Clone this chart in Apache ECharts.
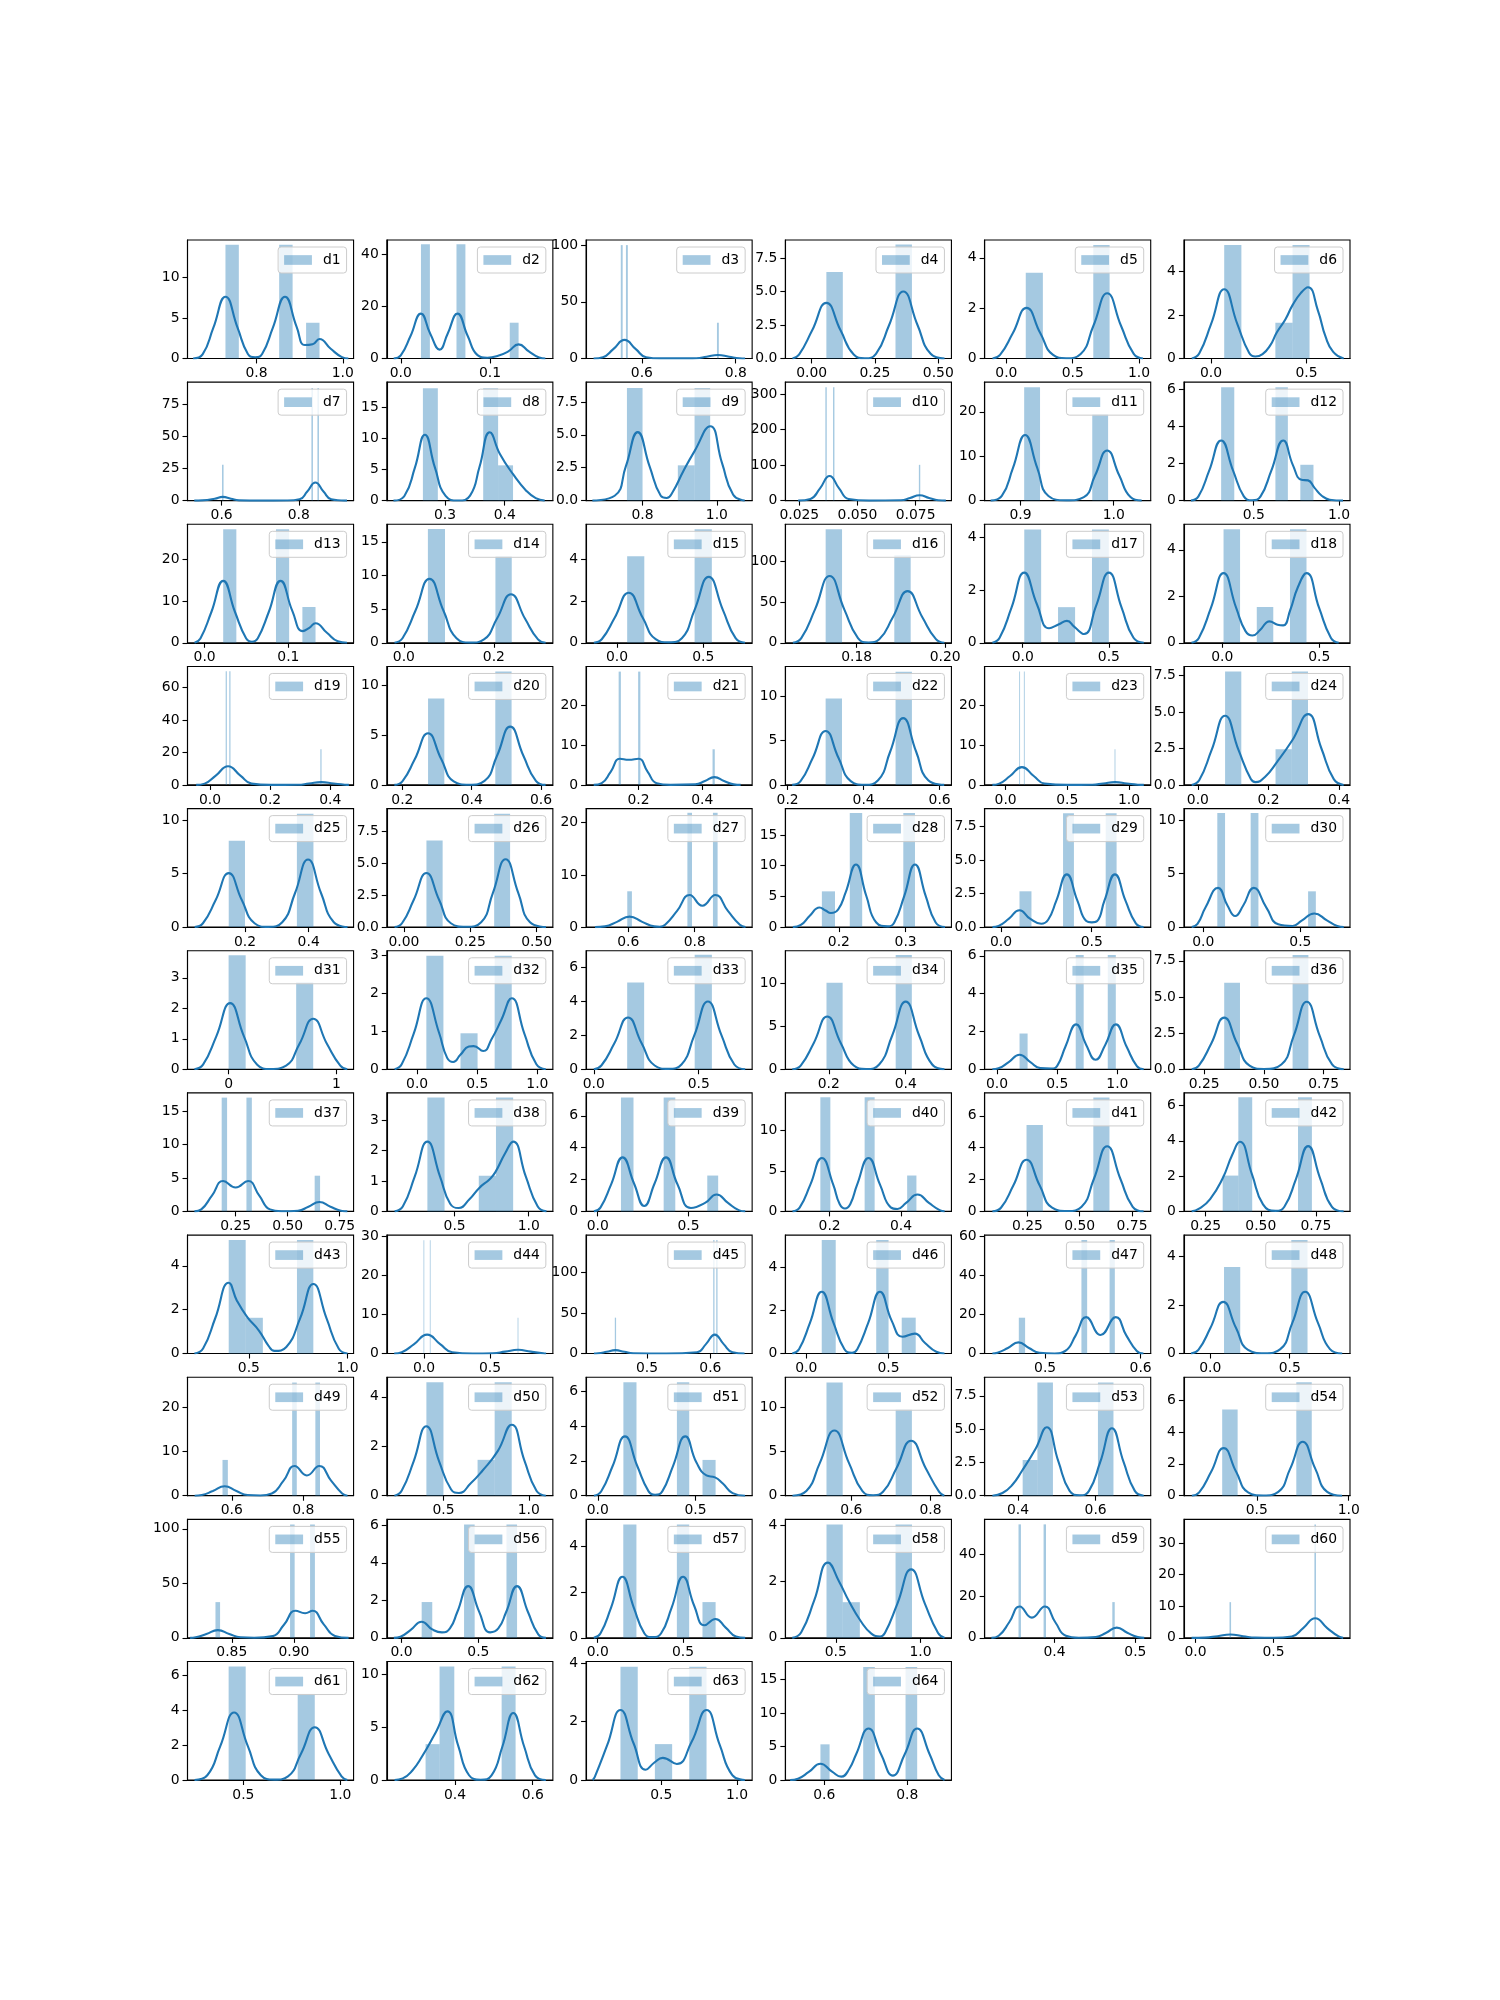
<!DOCTYPE html>
<html><head><meta charset="utf-8">
<script src="https://cdn.jsdelivr.net/npm/echarts@6/dist/echarts.min.js"></script>
<style>html,body{margin:0;padding:0;background:#fff}#c{width:1500px;height:2000px}</style>
</head><body><div id="c"></div>
<script>
const names = ['d1','d2','d3','d4','d5','d6','d7','d8','d9','d10','d11','d12','d13','d14','d15','d16','d17','d18','d19','d20','d21','d22','d23','d24','d25','d26','d27','d28','d29','d30','d31','d32','d33','d34','d35','d36','d37','d38','d39','d40','d41','d42','d43','d44','d45','d46','d47','d48','d49','d50','d51','d52','d53','d54','d55','d56','d57','d58','d59','d60','d61','d62','d63','d64'];

const xLim = [[0.640,1.025],[-0.0157,0.1704],[0.481,0.835],[-0.104,0.552],[-0.164,1.088],[-0.142,0.728],
[0.5115,0.942],[0.2025,0.4807],[0.648,1.095],[0.019,0.0904],[0.8616,1.0397],[0.091,1.064],
[-0.0204,0.1778],[-0.0379,0.331],[-0.180,0.784],[0.1639,0.2014],[-0.221,0.743],[-0.197,0.658],
[-0.075,0.4775],[0.155,0.634],[0.036,0.556],[0.194,0.631],[-0.17,1.176],[-0.0396,0.431],
[0.0195,0.541],[-0.0643,0.561],[0.473,0.973],[0.1198,0.3686],[-0.09,0.825],[-0.1,0.756],
[-0.381,1.158],[-0.252,1.129],[-0.037,0.755],[0.087,0.519],[-0.103,1.277],[0.1656,0.860],
[0.0187,0.817],[0.042,1.163],[-0.064,0.85],[0.076,0.541],[0.046,0.839],[0.151,0.905],
[0.189,1.031],[-0.282,0.976],[0.4036,0.666],[-0.127,0.882],[0.4366,0.6106],[-0.165,0.879],
[0.476,0.941],[0.168,1.141],[-0.06,0.79],[0.433,0.853],[0.314,0.742],[0.104,1.007],
[0.8144,0.948],[-0.096,0.985],[-0.068,0.905],[0.202,1.183],[0.3136,0.519],[-0.074,0.99],
[0.212,1.068],[0.224,0.652],[0.004,1.1],[0.5065,0.9065]];

const yMax = [14.6,45.4,104.5,8.84,4.71,5.44,
92.5,19.07,9.0,333,26.7,6.38,
28.5,17.6,5.68,145,4.49,5.1,
73,11.9,29.9,13.4,29.9,8.13,
11.1,9.3,22.7,19.3,8.84,11.1,
3.89,3.13,7.0,13.8,6.27,8.2,
17.7,3.89,7.44,14.6,7.44,6.72,
5.4,30.26,146,5.48,60.5,4.875,
26.7,4.79,6.79,13.4,8.89,7.44,
108.7,6.32,5.2,4.22,57,37.5,
6.79,11.2,4.06,17.7];

const xTicks = [['0.8','1.0'],['0.0','0.1'],['0.6','0.8'],['0.00','0.25','0.50'],['0.0','0.5','1.0'],['0.0','0.5'],
['0.6','0.8'],['0.3','0.4'],['0.8','1.0'],['0.025','0.050','0.075'],['0.9','1.0'],['0.5','1.0'],
['0.0','0.1'],['0.0','0.2'],['0.0','0.5'],['0.18','0.20'],['0.0','0.5'],['0.0','0.5'],
['0.0','0.2','0.4'],['0.2','0.4','0.6'],['0.2','0.4'],['0.2','0.4','0.6'],['0.0','0.5','1.0'],['0.0','0.2','0.4'],
['0.2','0.4'],['0.00','0.25','0.50'],['0.6','0.8'],['0.2','0.3'],['0.0','0.5'],['0.0','0.5'],
['0','1'],['0.0','0.5','1.0'],['0.0','0.5'],['0.2','0.4'],['0.0','0.5','1.0'],['0.25','0.50','0.75'],
['0.25','0.50','0.75'],['0.5','1.0'],['0.0','0.5'],['0.2','0.4'],['0.25','0.50','0.75'],['0.25','0.50','0.75'],
['0.5','1.0'],['0.0','0.5'],['0.5','0.6'],['0.0','0.5'],['0.5','0.6'],['0.0','0.5'],
['0.6','0.8'],['0.5','1.0'],['0.0','0.5'],['0.6','0.8'],['0.4','0.6'],['0.5','1.0'],
['0.85','0.90'],['0.0','0.5'],['0.0','0.5'],['0.5','1.0'],['0.4','0.5'],['0.0','0.5'],
['0.5','1.0'],['0.4','0.6'],['0.5','1.0'],['0.6','0.8']];

const yTicks = [['0','5','10'],['0','20','40'],['0','50','100'],['0.0','2.5','5.0','7.5'],['0','2','4'],['0','2','4'],
['0','25','50','75'],['0','5','10','15'],['0.0','2.5','5.0','7.5'],['0','100','200','300'],['0','10','20'],['0','2','4','6'],
['0','10','20'],['0','5','10','15'],['0','2','4'],['0','50','100'],['0','2','4'],['0','2','4'],
['0','20','40','60'],['0','5','10'],['0','10','20'],['0','5','10'],['0','10','20'],['0.0','2.5','5.0','7.5'],
['0','5','10'],['0.0','2.5','5.0','7.5'],['0','10','20'],['0','5','10','15'],['0.0','2.5','5.0','7.5'],['0','5','10'],
['0','1','2','3'],['0','1','2','3'],['0','2','4','6'],['0','5','10'],['0','2','4','6'],['0.0','2.5','5.0','7.5'],
['0','5','10','15'],['0','1','2','3'],['0','2','4','6'],['0','5','10'],['0','2','4','6'],['0','2','4','6'],
['0','2','4'],['0','10','20','30'],['0','50','100'],['0','2','4'],['0','20','40','60'],['0','2','4'],
['0','10','20'],['0','2','4'],['0','2','4','6'],['0','5','10'],['0.0','2.5','5.0','7.5'],['0','2','4','6'],
['0','50','100'],['0','2','4','6'],['0','2','4'],['0','2','4'],['0','20','40'],['0','10','20','30'],
['0','2','4','6'],['0','5','10'],['0','2','4'],['0','5','10','15']];

// histogram bars: [left edge, right edge, density]
const histBars = [
[[0.728,0.759,14.0],[0.8525,0.8837,14.0],[0.9149,0.946,4.4]],
[[0.0226,0.0326,43.8],[0.0624,0.0724,43.8],[0.1221,0.132,13.7]],
[[0.555,0.559,100],[0.566,0.570,100],[0.760,0.764,31.5]],
[[0.058,0.123,6.45],[0.331,0.396,8.5]],
[[0.146,0.275,3.41],[0.655,0.778,4.51]],
[[0.069,0.159,5.21],[0.337,0.427,1.64],[0.427,0.516,5.21]],
[[0.601,0.605,28.1],[0.8327,0.8367,88.0],[0.8483,0.8523,88.0]],
[[0.263,0.288,18.1],[0.364,0.389,18.1],[0.389,0.414,5.68]],
[[0.758,0.8,8.56],[0.895,0.94,2.68],[0.94,0.982,8.56]],
[[0.0362,0.0368,319],[0.0395,0.0401,319],[0.0764,0.077,100.6]],
[[0.904,0.921,25.55],[0.977,0.994,19.5]],
[[0.309,0.386,6.1],[0.627,0.700,6.1],[0.773,0.850,1.93]],
[[0.0222,0.0379,27.3],[0.0852,0.1009,27.3],[0.1167,0.1324,8.6]],
[[0.0534,0.0914,16.9],[0.2034,0.2397,12.9]],
[[0.0586,0.158,4.15],[0.45,0.55,5.44]],
[[0.1730,0.1767,138.8],[0.1885,0.1922,107]],
[[0.009,0.107,4.29],[0.205,0.304,1.35],[0.402,0.5,4.29]],
[[0.007,0.092,4.89],[0.178,0.263,1.54],[0.349,0.434,4.89]],
[[0.052,0.056,70],[0.064,0.068,70],[0.367,0.371,22]],
[[0.274,0.321,8.68],[0.468,0.515,11.4]],
[[0.138,0.145,28.6],[0.199,0.206,28.6],[0.432,0.439,9.0]],
[[0.300,0.343,9.77],[0.484,0.527,12.8]],
[[0.110,0.117,28.6],[0.148,0.155,28.6],[0.883,0.890,9.0]],
[[0.077,0.123,7.78],[0.220,0.266,2.45],[0.266,0.312,7.78]],
[[0.149,0.2,8.1],[0.363,0.415,10.63]],
[[0.085,0.146,6.8],[0.34,0.40,8.9]],
[[0.597,0.611,6.86],[0.778,0.792,21.9],[0.855,0.869,21.9]],
[[0.1745,0.1942,5.82],[0.2163,0.2349,18.57],[0.2965,0.314,18.57]],
[[0.102,0.168,2.67],[0.342,0.402,8.5],[0.577,0.637,8.5]],
[[0.072,0.112,10.7],[0.244,0.284,10.7],[0.54,0.58,3.35]],
[[0.0,0.158,3.74],[0.626,0.784,2.86]],
[[0.077,0.219,3.0],[0.361,0.503,0.95],[0.645,0.787,3.0]],
[[0.159,0.24,5.12],[0.481,0.563,6.76]],
[[0.194,0.236,10.08],[0.374,0.416,13.3]],
[[0.187,0.254,1.89],[0.654,0.720,6.04],[0.920,0.987,6.04]],
[[0.334,0.40,5.98],[0.620,0.686,7.9]],
[[0.183,0.209,17.0],[0.302,0.328,17.0],[0.63,0.656,5.33]],
[[0.316,0.432,3.74],[0.663,0.779,1.17],[0.779,0.895,3.74]],
[[0.128,0.197,7.16],[0.363,0.427,7.16],[0.603,0.663,2.25]],
[[0.174,0.202,14.08],[0.298,0.326,14.08],[0.417,0.443,4.42]],
[[0.246,0.324,5.42],[0.565,0.642,7.16]],
[[0.327,0.398,2.03],[0.398,0.461,6.47],[0.669,0.732,6.47]],
[[0.398,0.484,5.17],[0.484,0.571,1.63],[0.744,0.827,5.17]],
[[-0.004,0.002,28.97],[0.044,0.05,28.97],[0.709,0.715,9.14]],
[[0.449,0.451,44.2],[0.6045,0.6065,140],[0.6093,0.6113,140]],
[[0.094,0.179,5.25],[0.425,0.5,5.25],[0.58,0.665,1.66]],
[[0.4724,0.479,18.3],[0.538,0.544,58],[0.5675,0.573,58]],
[[0.087,0.189,3.56],[0.51,0.612,4.67]],
[[0.574,0.589,8.06],[0.769,0.782,25.5],[0.834,0.847,25.5]],
[[0.4,0.5,4.59],[0.7,0.8,1.45],[0.8,0.9,4.59]],
[[0.131,0.198,6.5],[0.405,0.468,6.5],[0.536,0.603,2.05]],
[[0.537,0.578,12.8],[0.712,0.753,9.77]],
[[0.412,0.45,2.68],[0.45,0.49,8.5],[0.606,0.646,8.5]],
[[0.312,0.396,5.42],[0.715,0.799,7.12]],
[[0.8369,0.8406,32.8],[0.8969,0.9006,104],[0.913,0.9169,104]],
[[0.131,0.2,1.91],[0.407,0.476,6.05],[0.683,0.752,6.05]],
[[0.15,0.227,4.98],[0.464,0.536,4.98],[0.614,0.691,1.57]],
[[0.445,0.541,4.04],[0.541,0.642,1.27],[0.853,0.95,4.04]],
[[0.3555,0.3585,54.6],[0.3865,0.3895,54.6],[0.4715,0.4745,17.2]],
[[0.218,0.228,11.3],[0.762,0.772,35.9]],
[[0.424,0.512,6.5],[0.78,0.868,4.95]],
[[0.324,0.36,3.39],[0.36,0.398,10.73],[0.52,0.556,10.73]],
[[0.231,0.345,3.88],[0.458,0.572,1.23],[0.685,0.799,3.88]],
[[0.591,0.613,5.33],[0.694,0.722,16.9],[0.796,0.824,16.9]]
];

// KDE curves: [x, density]
const kdeCurves = [
[[0.653,0],[0.675,0.5],[0.700,3.8],[0.728,7.6],[0.756,3.8],[0.78,0.55],[0.797,0.15],[0.813,0.55],[0.838,3.8],[0.866,7.6],[0.893,3.9],[0.912,1.65],[0.93,1.75],[0.946,2.4],[0.972,1.2],[0.998,0.17],[1.013,0]],
[[-0.008,0],[0.0,1.2],[0.0109,8.6],[0.0226,17.2],[0.033,9.5],[0.0435,3.4],[0.0525,9.5],[0.0635,17.2],[0.075,8.6],[0.086,1.3],[0.097,0.3],[0.109,1.0],[0.1205,2.7],[0.132,5.4],[0.1435,2.7],[0.155,0.4],[0.162,0]],
[[0.497,0],[0.517,1.1],[0.539,8.2],[0.563,16.4],[0.587,8.2],[0.609,1.1],[0.64,0.05],[0.70,0.05],[0.716,0.2],[0.738,1.5],[0.762,3.0],[0.786,1.5],[0.808,0.2],[0.82,0]],
[[-0.076,0],[-0.05,0.29],[0.002,2.1],[0.058,4.15],[0.114,2.1],[0.166,0.3],[0.21,0.02],[0.254,0.35],[0.306,2.5],[0.362,5.0],[0.418,2.5],[0.47,0.35],[0.525,0]],
[[-0.105,0],[-0.048,0.14],[0.048,1.0],[0.152,2.01],[0.256,1.0],[0.352,0.14],[0.45,0.01],[0.56,0.18],[0.656,1.3],[0.76,2.59],[0.864,1.3],[0.96,0.18],[1.03,0]],
[[-0.101,0],[-0.062,0.23],[0.001,1.6],[0.069,3.18],[0.137,1.6],[0.2,0.25],[0.232,0.09],[0.27,0.2],[0.31,0.6],[0.345,1.2],[0.39,1.8],[0.427,2.45],[0.47,3.0],[0.508,3.27],[0.56,2.2],[0.6,1.0],[0.64,0.3],[0.695,0]],
[[0.529,0],[0.55,0.2],[0.582,1.45],[0.603,2.9],[0.624,1.45],[0.645,0.2],[0.7,0.01],[0.77,0.05],[0.802,1.0],[0.822,7.05],[0.843,14.1],[0.864,7.05],[0.884,1.0],[0.91,0.15],[0.925,0]],
[[0.2137,0],[0.232,0.75],[0.2496,5.3],[0.2664,10.6],[0.2832,5.3],[0.301,0.75],[0.322,0.02],[0.342,0.8],[0.358,5.5],[0.375,11.0],[0.392,7.5],[0.414,4.25],[0.436,1.6],[0.452,0.4],[0.467,0]],
[[0.665,0],[0.725,0.37],[0.755,2.6],[0.787,5.2],[0.819,2.6],[0.849,0.37],[0.865,0.2],[0.88,0.6],[0.91,2.25],[0.94,3.76],[0.982,5.65],[1.014,2.85],[1.044,0.45],[1.075,0]],
[[0.0245,0],[0.0298,4.8],[0.0339,34.5],[0.038,69],[0.0421,34.5],[0.0462,4.8],[0.055,0.05],[0.0687,1.05],[0.0726,7.5],[0.0767,15],[0.0808,7.5],[0.0847,1.05],[0.088,0]],
[[0.868,0],[0.88,1.05],[0.892,7.4],[0.905,14.8],[0.918,7.4],[0.93,1.05],[0.949,0.05],[0.968,0.8],[0.98,5.65],[0.993,11.3],[1.006,5.65],[1.018,0.8],[1.03,0]],
[[0.132,0],[0.176,0.23],[0.239,1.62],[0.309,3.24],[0.379,1.62],[0.442,0.23],[0.49,0.02],[0.54,0.23],[0.603,1.62],[0.673,3.24],[0.73,1.9],[0.78,1.12],[0.818,1.09],[0.855,0.7],[0.9,0.25],[0.945,0.05],[1.023,0]],
[[-0.012,0],[-0.005,1.05],[0.0081,7.4],[0.0222,14.9],[0.0363,7.4],[0.0495,1.1],[0.0565,0.25],[0.0635,1.1],[0.0766,7.4],[0.0907,14.9],[0.1048,7.6],[0.117,2.8],[0.125,3.6],[0.1324,4.7],[0.146,2.4],[0.159,0.35],[0.170,0]],
[[-0.0207,0],[-0.003,0.67],[0.0257,4.75],[0.0569,9.5],[0.0881,4.75],[0.117,0.67],[0.148,0.02],[0.178,0.5],[0.207,3.6],[0.238,7.2],[0.269,3.6],[0.298,0.5],[0.315,0]],
[[-0.135,0],[-0.089,0.17],[-0.014,1.2],[0.0676,2.40],[0.149,1.2],[0.224,0.17],[0.3,0.02],[0.376,0.22],[0.45,1.58],[0.532,3.16],[0.614,1.58],[0.688,0.22],[0.743,0]],
[[0.1656,0],[0.1675,5.7],[0.1706,40.9],[0.1739,81.8],[0.1772,40.9],[0.1803,5.7],[0.1827,0.3],[0.1851,4.4],[0.1882,31.6],[0.1915,63.2],[0.1948,31.6],[0.1979,4.4],[0.1998,0]],
[[-0.176,0],[-0.134,0.19],[-0.065,1.33],[0.009,2.66],[0.083,1.45],[0.153,0.55],[0.21,0.7],[0.257,0.83],[0.30,0.6],[0.356,0.33],[0.426,1.4],[0.5,2.66],[0.574,1.33],[0.643,0.19],[0.703,0]],
[[-0.158,0],[-0.12,0.21],[-0.058,1.5],[0.007,3.0],[0.072,1.5],[0.12,0.5],[0.156,0.31],[0.195,0.55],[0.225,0.85],[0.242,0.92],[0.285,0.78],[0.314,0.75],[0.35,1.4],[0.39,2.4],[0.434,3.0],[0.499,1.5],[0.56,0.21],[0.6,0]],
[[-0.046,0],[-0.018,0.8],[0.019,5.75],[0.06,11.5],[0.101,5.75],[0.138,0.8],[0.2,0.01],[0.292,0.12],[0.329,0.85],[0.37,1.7],[0.411,0.85],[0.448,0.12],[0.462,0]],
[[0.177,0],[0.2,0.36],[0.236,2.6],[0.274,5.19],[0.312,2.6],[0.348,0.36],[0.392,0.02],[0.437,0.41],[0.473,2.93],[0.511,5.86],[0.549,2.93],[0.585,0.41],[0.613,0]],
[[0.06,0],[0.085,0.45],[0.113,3.3],[0.142,6.6],[0.17,6.35],[0.2,6.6],[0.229,3.3],[0.257,0.45],[0.3,0.02],[0.378,0.14],[0.408,0.98],[0.438,1.96],[0.468,0.98],[0.498,0.14],[0.52,0]],
[[0.212,0],[0.234,0.43],[0.266,3.05],[0.300,6.1],[0.334,3.05],[0.366,0.43],[0.402,0.02],[0.438,0.53],[0.47,3.78],[0.504,7.56],[0.538,3.78],[0.57,0.53],[0.612,0]],
[[-0.107,0],[-0.052,0.32],[0.036,2.25],[0.132,4.5],[0.228,2.25],[0.316,0.32],[0.5,0.0],[0.703,0.05],[0.791,0.35],[0.887,0.7],[0.983,0.35],[1.071,0.05],[1.12,0]],
[[-0.0176,0],[0.004,0.34],[0.039,2.4],[0.077,4.75],[0.115,2.4],[0.15,0.4],[0.163,0.19],[0.19,0.55],[0.224,1.57],[0.268,3.08],[0.312,4.86],[0.35,2.5],[0.385,0.4],[0.413,0]],
[[0.042,0],[0.068,0.36],[0.108,2.53],[0.149,5.06],[0.19,2.53],[0.23,0.36],[0.273,0.02],[0.317,0.45],[0.357,3.17],[0.398,6.33],[0.439,3.17],[0.479,0.45],[0.522,0]],
[[-0.035,0],[-0.007,0.3],[0.037,2.12],[0.085,4.24],[0.133,2.12],[0.177,0.3],[0.234,0.02],[0.291,0.38],[0.335,2.67],[0.383,5.33],[0.431,2.67],[0.475,0.38],[0.535,0]],
[[0.5,0],[0.53,0.14],[0.566,1.0],[0.604,2.0],[0.642,1.0],[0.678,0.14],[0.695,0.05],[0.711,0.43],[0.747,3.1],[0.785,6.15],[0.823,4.1],[0.862,6.15],[0.9,3.1],[0.936,0.43],[0.953,0]],
[[0.131,0],[0.143,0.35],[0.156,1.8],[0.171,3.19],[0.18,2.7],[0.188,2.3],[0.199,2.9],[0.21,5.6],[0.2256,10.2],[0.241,5.1],[0.256,0.75],[0.2733,0.12],[0.283,0.75],[0.298,5.1],[0.314,10.2],[0.33,5.1],[0.345,0.75],[0.359,0]],
[[-0.047,0],[-0.013,0.09],[0.044,0.63],[0.102,1.26],[0.16,0.63],[0.222,0.25],[0.26,0.55],[0.305,1.97],[0.363,3.93],[0.421,1.97],[0.47,0.45],[0.5,0.35],[0.53,0.45],[0.57,1.97],[0.628,3.93],[0.686,1.97],[0.743,0.28],[0.786,0]],
[[-0.06,0],[-0.03,0.3],[0.011,1.83],[0.076,3.67],[0.125,2.0],[0.164,1.04],[0.205,2.0],[0.26,3.67],[0.325,1.83],[0.386,0.26],[0.46,0.1],[0.507,0.6],[0.572,1.27],[0.637,0.63],[0.69,0.1],[0.724,0]],
[[-0.317,0],[-0.237,0.15],[-0.114,1.08],[0.014,2.17],[0.142,1.08],[0.265,0.15],[0.39,0.01],[0.533,0.12],[0.656,0.83],[0.784,1.66],[0.912,0.83],[1.035,0.12],[1.1,0]],
[[-0.187,0],[-0.128,0.13],[-0.028,0.94],[0.077,1.875],[0.182,0.97],[0.25,0.3],[0.3,0.19],[0.36,0.38],[0.43,0.6],[0.47,0.61],[0.55,0.48],[0.62,0.8],[0.7,1.3],[0.787,1.875],[0.892,0.94],[0.992,0.13],[1.07,0]],
[[0.0,0],[0.036,0.22],[0.098,1.53],[0.163,3.06],[0.228,1.53],[0.29,0.22],[0.355,0.02],[0.418,0.28],[0.479,2.0],[0.544,4.0],[0.609,2.0],[0.67,0.28],[0.722,0]],
[[0.105,0],[0.127,0.43],[0.161,3.07],[0.196,6.14],[0.231,3.07],[0.265,0.43],[0.297,0.02],[0.331,0.55],[0.365,3.93],[0.4,7.87],[0.435,3.93],[0.469,0.55],[0.501,0]],
[[-0.039,0],[0.012,0.05],[0.097,0.38],[0.187,0.77],[0.277,0.38],[0.36,0.06],[0.45,0.04],[0.5,0.18],[0.568,1.19],[0.658,2.375],[0.74,1.3],[0.819,0.5],[0.9,1.3],[0.987,2.375],[1.077,1.19],[1.162,0.17],[1.219,0]],
[[0.198,0],[0.228,0.25],[0.28,1.78],[0.334,3.57],[0.388,1.78],[0.44,0.25],[0.5,0.02],[0.573,0.33],[0.625,2.33],[0.679,4.67],[0.733,2.33],[0.785,0.33],[0.834,0]],
[[0.052,0],[0.085,0.3],[0.137,2.4],[0.19,4.53],[0.25,3.57],[0.31,4.53],[0.363,2.4],[0.415,0.3],[0.47,0.02],[0.55,0.1],[0.6,0.7],[0.653,1.41],[0.706,0.7],[0.756,0.1],[0.787,0]],
[[0.095,0],[0.15,0.16],[0.231,1.15],[0.316,2.29],[0.401,1.15],[0.47,0.25],[0.526,0.11],[0.6,0.4],[0.668,0.78],[0.735,1.05],[0.774,1.28],[0.84,1.9],[0.895,2.29],[0.98,1.15],[1.061,0.16],[1.12,0]],
[[-0.021,0],[0.015,0.24],[0.074,1.7],[0.137,3.39],[0.2,1.75],[0.256,0.34],[0.313,1.75],[0.376,3.39],[0.439,1.7],[0.513,0.21],[0.591,0.53],[0.654,1.06],[0.717,0.53],[0.776,0.08],[0.812,0]],
[[0.096,0],[0.116,0.46],[0.146,3.3],[0.178,6.58],[0.21,3.3],[0.228,0.9],[0.243,0.35],[0.258,0.9],[0.277,3.3],[0.309,6.58],[0.341,3.3],[0.371,0.5],[0.39,0.3],[0.414,1.04],[0.446,2.08],[0.478,1.04],[0.508,0.15],[0.522,0]],
[[0.083,0],[0.124,0.23],[0.183,1.62],[0.246,3.24],[0.309,1.62],[0.368,0.23],[0.44,0.02],[0.509,0.29],[0.568,2.05],[0.631,4.09],[0.694,2.05],[0.753,0.29],[0.805,0]],
[[0.186,0],[0.22,0.15],[0.27,0.7],[0.327,1.88],[0.37,3.2],[0.405,3.95],[0.46,2.1],[0.51,0.4],[0.567,0.03],[0.607,0.26],[0.66,1.85],[0.715,3.7],[0.77,1.85],[0.823,0.26],[0.876,0]],
[[0.224,0],[0.268,0.23],[0.33,1.62],[0.398,3.23],[0.44,2.4],[0.492,1.66],[0.551,1.05],[0.6,0.35],[0.63,0.12],[0.69,0.3],[0.76,1.6],[0.827,3.17],[0.894,1.6],[0.956,0.22],[1.0,0]],
[[-0.226,0],[-0.168,0.34],[-0.075,2.42],[0.0235,4.83],[0.122,2.42],[0.214,0.34],[0.37,0.0],[0.521,0.07],[0.614,0.48],[0.712,0.95],[0.81,0.48],[0.903,0.07],[0.925,0]],
[[0.416,0],[0.4225,0.3],[0.436,2.1],[0.45,4.2],[0.464,2.1],[0.478,0.3],[0.53,0.0],[0.579,1.6],[0.593,11.6],[0.607,23.3],[0.621,11.6],[0.635,1.6],[0.654,0]],
[[-0.085,0],[-0.044,0.2],[0.023,1.43],[0.094,2.86],[0.165,1.43],[0.232,0.2],[0.278,0.03],[0.31,0.2],[0.377,1.43],[0.448,2.86],[0.52,1.5],[0.585,0.78],[0.66,0.92],[0.72,0.5],[0.79,0.08],[0.84,0]],
[[0.4447,0],[0.45,0.4],[0.461,2.85],[0.472,5.7],[0.483,2.85],[0.494,0.4],[0.51,0.05],[0.521,1.3],[0.532,9.3],[0.543,18.6],[0.558,9.5],[0.574,18.6],[0.585,9.3],[0.596,1.3],[0.603,0]],
[[-0.121,0],[-0.074,0.15],[0.002,1.06],[0.082,2.125],[0.162,1.06],[0.238,0.15],[0.34,0.01],[0.441,0.18],[0.517,1.27],[0.597,2.54],[0.677,1.27],[0.753,0.18],[0.83,0]],
[[0.496,0],[0.516,0.15],[0.547,1.06],[0.58,2.13],[0.613,1.06],[0.644,0.15],[0.68,0.05],[0.712,0.5],[0.745,3.4],[0.776,6.7],[0.81,4.56],[0.845,6.7],[0.878,3.4],[0.909,0.5],[0.924,0]],
[[0.213,0],[0.255,0.2],[0.326,1.4],[0.4,2.81],[0.474,1.4],[0.545,0.25],[0.591,0.11],[0.66,0.5],[0.727,1.0],[0.818,1.8],[0.9,2.87],[0.974,1.43],[1.045,0.2],[1.1,0]],
[[-0.02,0],[0.017,0.24],[0.076,1.7],[0.139,3.4],[0.202,1.7],[0.26,0.25],[0.293,0.05],[0.33,0.25],[0.385,1.7],[0.448,3.4],[0.505,1.9],[0.556,1.16],[0.6,1.05],[0.64,0.7],[0.69,0.15],[0.754,0]],
[[0.451,0],[0.486,0.52],[0.52,3.68],[0.557,7.37],[0.594,3.68],[0.628,0.52],[0.655,0.05],[0.68,0.44],[0.714,3.11],[0.751,6.22],[0.788,3.11],[0.822,0.44],[0.835,0]],
[[0.334,0],[0.36,0.2],[0.385,0.8],[0.41,1.85],[0.445,3.5],[0.474,5.14],[0.504,2.57],[0.533,0.36],[0.56,0.03],[0.583,0.36],[0.612,2.53],[0.642,5.06],[0.672,2.53],[0.701,0.36],[0.724,0]],
[[0.147,0],[0.187,0.21],[0.252,1.5],[0.32,2.99],[0.388,1.5],[0.453,0.21],[0.535,0.01],[0.617,0.24],[0.682,1.7],[0.75,3.39],[0.818,1.7],[0.883,0.24],[0.964,0]],
[[0.8165,0],[0.821,0.5],[0.8296,3.55],[0.8388,7.1],[0.848,3.55],[0.857,0.5],[0.868,0.05],[0.883,1.6],[0.892,12.0],[0.9013,24.8],[0.909,22.6],[0.915,24.8],[0.924,12.4],[0.933,1.8],[0.944,0]],
[[-0.05,0],[-0.007,0.06],[0.06,0.43],[0.131,0.86],[0.2,0.45],[0.263,0.29],[0.315,0.5],[0.363,1.38],[0.434,2.76],[0.505,1.4],[0.576,0.29],[0.63,0.5],[0.681,1.38],[0.752,2.76],[0.823,1.38],[0.89,0.19],[0.94,0]],
[[-0.023,0],[0.016,0.19],[0.079,1.34],[0.145,2.68],[0.211,1.34],[0.274,0.19],[0.32,0.03],[0.371,0.19],[0.434,1.34],[0.5,2.68],[0.566,1.4],[0.625,0.55],[0.69,0.83],[0.75,0.45],[0.81,0.06],[0.864,0]],
[[0.243,0],[0.295,0.19],[0.373,1.34],[0.454,2.68],[0.52,2.0],[0.578,1.3],[0.647,0.6],[0.71,0.15],[0.762,0.05],[0.79,0.17],[0.864,1.22],[0.945,2.44],[1.026,1.22],[1.104,0.17],[1.142,0]],
[[0.322,0],[0.331,1.0],[0.344,7.5],[0.357,15.1],[0.372,9.75],[0.388,15.1],[0.401,7.5],[0.414,1.0],[0.43,0.05],[0.451,0.35],[0.464,2.45],[0.477,4.9],[0.49,2.45],[0.503,0.35],[0.511,0]],
[[-0.025,0],[0.06,0.07],[0.141,0.53],[0.223,1.07],[0.305,0.53],[0.385,0.07],[0.5,0.01],[0.617,0.45],[0.69,3.1],[0.767,6.19],[0.844,3.1],[0.917,0.45],[0.946,0]],
[[0.248,0],[0.314,0.27],[0.381,1.94],[0.452,3.87],[0.523,1.94],[0.59,0.27],[0.66,0.02],[0.73,0.21],[0.797,1.51],[0.868,3.02],[0.939,1.51],[1.006,0.21],[1.036,0]],
[[0.244,0],[0.265,0.15],[0.29,0.9],[0.314,2.17],[0.35,4.5],[0.38,6.49],[0.408,3.25],[0.436,0.45],[0.466,0.03],[0.494,0.44],[0.522,3.17],[0.55,6.33],[0.578,3.17],[0.606,0.44],[0.634,0]],
[[0.047,0],[0.061,0.1],[0.144,1.2],[0.231,2.4],[0.318,1.25],[0.397,0.35],[0.455,0.6],[0.51,0.76],[0.603,0.55],[0.7,1.3],[0.799,2.4],[0.886,1.2],[0.969,0.17],[1.052,0]],
[[0.518,0],[0.537,0.2],[0.563,1.2],[0.591,2.42],[0.619,1.25],[0.641,0.5],[0.66,1.6],[0.677,3.85],[0.707,7.7],[0.737,3.85],[0.7655,0.65],[0.794,3.85],[0.824,7.7],[0.854,3.85],[0.876,0.7],[0.89,0]]
];

const BAR_COLOR = 'rgba(31,119,180,0.4)';
const LINE_COLOR = '#1f77b4';
const FONT = 'DejaVu Sans';
const axW = 1162.5 / 7, axH = 1540 / 13;
const stepX = axW * 1.2, stepY = axH * 1.2;

const grid = [], xAxis = [], yAxis = [], series = [], legend = [];
function labelFmt(list) {
  return function (v) {
    const s = list.find(t => Math.abs(Number(t) - v) < 1e-9);
    return s === undefined ? '' : s;
  };
}
names.forEach((nm, i) => {
  const r = Math.floor(i / 6), c = i % 6;
  const L = 187.5 + c * stepX, T = 240 + r * stepY;
  grid.push({left: L, top: T, width: axW, height: axH, show: true, borderColor: '#000', borderWidth: 1.1,
    backgroundColor: 'transparent', containLabel: false});
  const xv = xTicks[i].map(Number), yv = yTicks[i].map(Number);
  xAxis.push({type: 'value', gridIndex: i, min: xLim[i][0], max: xLim[i][1],
    axisLine: {show: true, onZero: false, lineStyle: {color: '#000', width: 1.1}},
    splitLine: {show: false},
    axisTick: {show: true, inside: false, length: 5, lineStyle: {color: '#000', width: 1.1}, customValues: xv},
    axisLabel: {show: true, customValues: xv, formatter: labelFmt(xTicks[i]), color: '#000', fontSize: 13.9,
      fontFamily: FONT, margin: 8}});
  yAxis.push({type: 'value', gridIndex: i, min: 0, max: yMax[i],
    axisLine: {show: true, onZero: false, lineStyle: {color: '#000', width: 1.1}},
    splitLine: {show: false},
    axisTick: {show: true, inside: false, length: 5, lineStyle: {color: '#000', width: 1.1}, customValues: yv},
    axisLabel: {show: true, customValues: yv, formatter: labelFmt(yTicks[i]), color: '#000', fontSize: 13.9,
      fontFamily: FONT, margin: 8}});
  series.push({type: 'custom', name: nm, xAxisIndex: i, yAxisIndex: i, data: histBars[i],
    encode: {x: [0, 1], y: 2}, itemStyle: {color: BAR_COLOR}, silent: true, z: 2,
    renderItem: function (params, api) {
      const a = api.coord([api.value(0), api.value(2)]);
      const b = api.coord([api.value(1), 0]);
      return {type: 'rect', shape: {x: a[0], y: a[1], width: b[0] - a[0], height: b[1] - a[1]},
        style: {fill: BAR_COLOR}};
    }});
  series.push({type: 'line', xAxisIndex: i, yAxisIndex: i, data: kdeCurves[i], showSymbol: false,
    symbol: 'none', smooth: 0.5, silent: true, z: 3,
    lineStyle: {color: LINE_COLOR, width: 2.1}});
  legend.push({data: [{name: nm, icon: 'rect', itemStyle: {color: BAR_COLOR}}],
    right: 1500 - (L + axW - 7), top: T + 7, orient: 'horizontal',
    itemWidth: 27.8, itemHeight: 9.7, padding: [6, 6, 6, 6],
    backgroundColor: 'rgba(255,255,255,0.8)', borderColor: '#cccccc', borderWidth: 1, borderRadius: 3,
    selectedMode: false, z: 10,
    textStyle: {fontFamily: FONT, fontSize: 13.9, color: '#000', padding: [0, 0, 0, 6]}});
});

const chart = echarts.init(document.getElementById('c'), null, {renderer: 'canvas', width: 1500, height: 2000});
chart.setOption({backgroundColor: '#fff', animation: false, grid, xAxis, yAxis, series, legend});
</script>
</body></html>
